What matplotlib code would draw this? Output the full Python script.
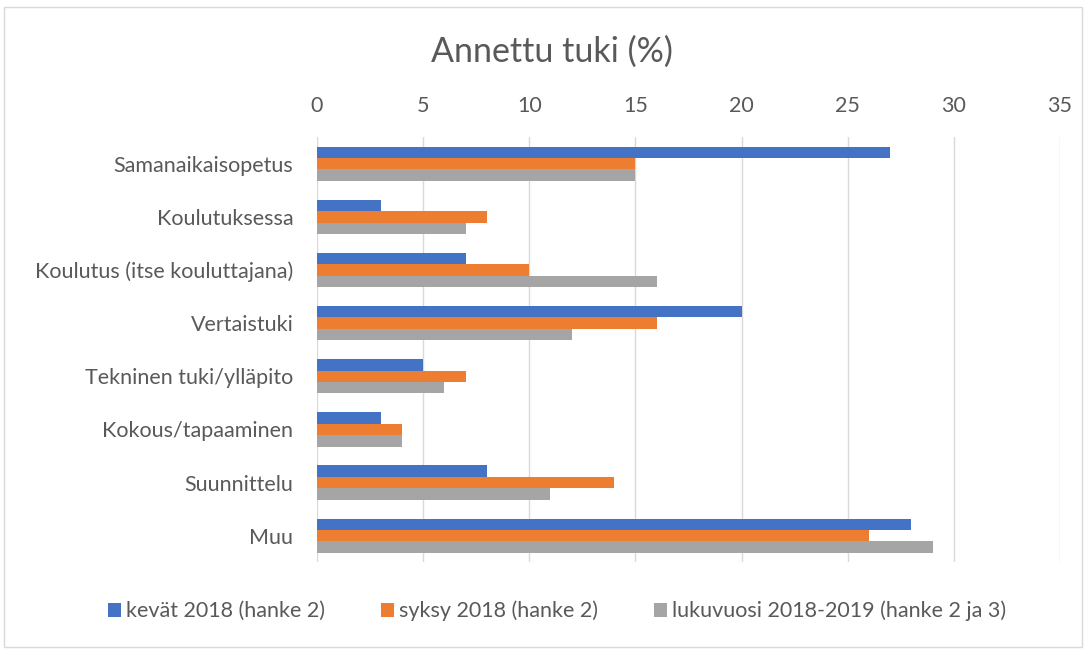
import matplotlib.pyplot as plt
import numpy as np
from matplotlib.patches import Rectangle

categories = ['Samanaikaisopetus', 'Koulutuksessa', 'Koulutus (itse kouluttajana)',
              'Vertaistuki', 'Tekninen tuki/ylläpito', 'Kokous/tapaaminen',
              'Suunnittelu', 'Muu']
kevat_2018 = [27, 3, 7, 20, 5, 3, 8, 28]
syksy_2018 = [15, 8, 10, 16, 7, 4, 14, 26]
lukuvuosi = [15, 7, 16, 12, 6, 4, 11, 29]
series_names = ['kevät 2018 (hanke 2)', 'syksy 2018 (hanke 2)',
                'lukuvuosi 2018-2019 (hanke 2 ja 3)']
colors = ['#4472C4', '#ED7D31', '#A5A5A5']
x_ticks = [0, 5, 10, 15, 20, 25, 30, 35]

plt.rcParams['font.family'] = ['Lato', 'DejaVu Sans']
text_color = '#595959'

fig = plt.figure(figsize=(10.86, 6.5), dpi=100)
ax = fig.add_axes([0.2919, 0.135, 0.976 - 0.2919, 0.654])

# outer frame like in the excel chart
fig.patches.append(Rectangle((0.004, 0.004), 0.992, 0.986, transform=fig.transFigure,
                             fill=False, edgecolor='#d9d9d9', linewidth=1))

y = np.arange(len(categories))
h = 0.215
for i, (vals, name) in enumerate(zip([kevat_2018, syksy_2018, lukuvuosi], series_names)):
    ax.barh(y + (i - 1) * h, vals, height=h, color=colors[i], label=name, zorder=3)

ax.set_ylim(len(categories) - 0.5, -0.5)
ax.set_xlim(0, 35)
ax.set_xticks(x_ticks)
ax.xaxis.tick_top()
ax.tick_params(axis='x', length=0, pad=15, labelsize=15.5, labelcolor=text_color)
ax.tick_params(axis='y', length=0, pad=17, labelsize=15.5, labelcolor=text_color)
ax.set_yticks(y)
ax.set_yticklabels(categories)
ax.grid(axis='x', color='#d9d9d9', linewidth=1, zorder=0)
for s in ax.spines.values():
    s.set_visible(False)

fig.text(0.508, 0.92, 'Annettu tuki (%)', ha='center', va='center', fontsize=24.5, color=text_color)

fig.legend(loc='center', bbox_to_anchor=(0.513, 0.06), ncol=3, frameon=False,
           fontsize=15.5, labelcolor=text_color, handlelength=0.6, handleheight=0.6,
           handletextpad=0.25, columnspacing=2.6)

fig.savefig('out.png', dpi=100)
